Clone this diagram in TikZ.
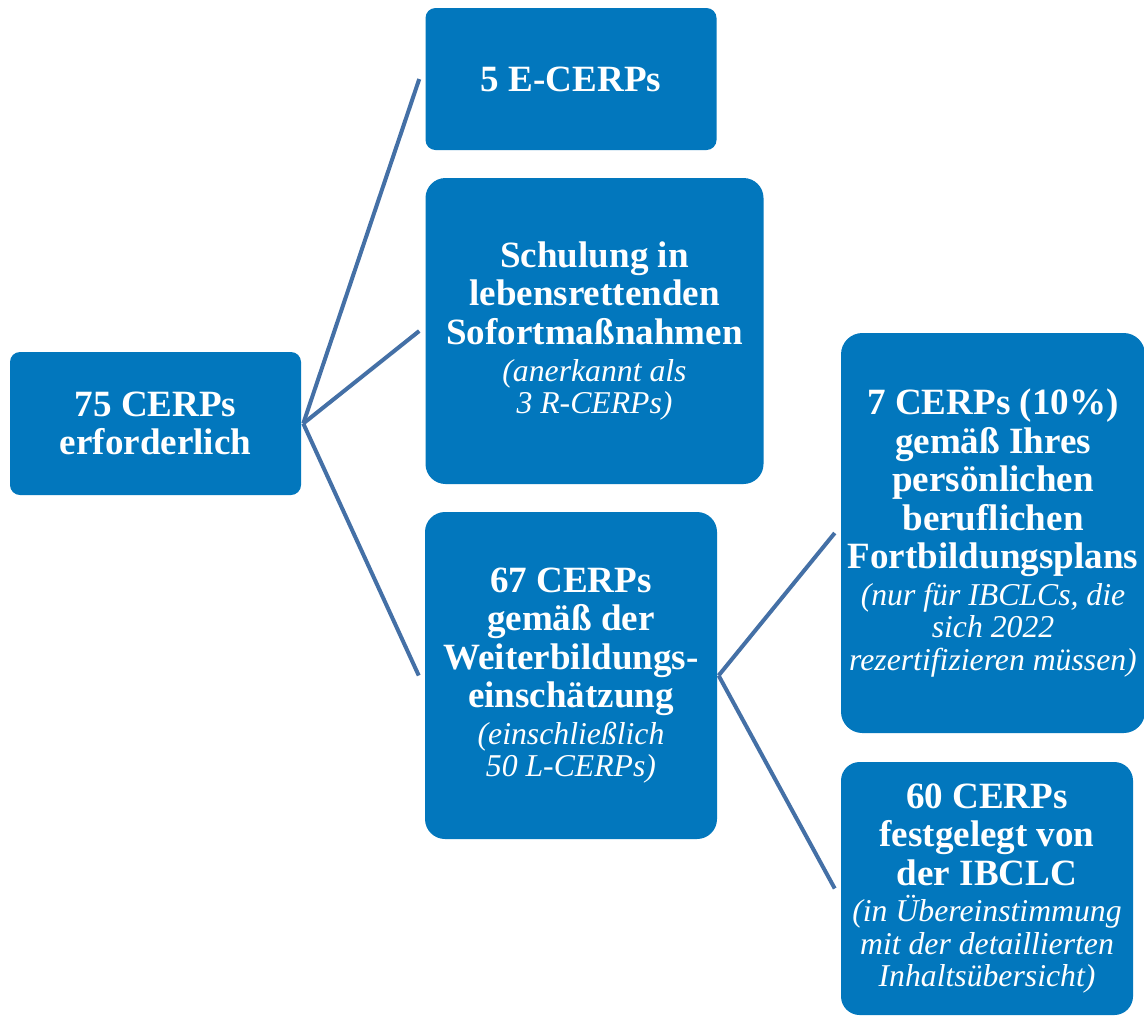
\documentclass[tikz,border=0pt]{standalone}
\usepackage{fontspec}
\setmainfont{Liberation Serif}
\definecolor{cerpblue}{HTML}{0277BD}
\definecolor{linkblue}{HTML}{4470A6}
\newcommand{\remark}[1]{{\fontsize{23.8}{24.4}\selectfont\mdseries\itshape #1}}

\begin{document}
\begin{tikzpicture}[x=0.75pt, y=-0.75pt,
    box/.style={fill=cerpblue, text=white, align=center, inner sep=0pt,
      font=\fontsize{27.8}{28.9}\selectfont\bfseries},
    link/.style={draw=linkblue, line width=3pt}]

  \useasboundingbox[fill=white] (0, 0) rectangle (1144, 1015);

  % BOXES
  \node[box, rounded corners=7.5pt, minimum width=291*0.75pt, minimum height=143*0.75pt]
    (root) at (155.5, 423.5) {75 CERPs\\erforderlich};
  \node[box, rounded corners=7.5pt, minimum width=291*0.75pt, minimum height=142*0.75pt]
    (ecerp) at (571, 79) {5 E-CERPs};
  \node[box, rounded corners=15pt, minimum width=338*0.75pt, minimum height=306*0.75pt]
    (schulung) at (594.5, 331) {Schulung in\\lebensrettenden\\Sofortmaßnahmen\\[-1.5pt]
      \remark{(anerkannt als}\\[-4.5pt]\remark{3 R-CERPs)}};
  \node[box, rounded corners=15pt, minimum width=292*0.75pt, minimum height=327*0.75pt]
    (weiter) at (571, 675.5) {67 CERPs\\gemäß der\\Weiterbildungs-\\einschätzung\\[-1.5pt]
      \remark{(einschließlich}\\[-4.5pt]\remark{50 L-CERPs)}};
  \node[box, rounded corners=16pt, minimum width=304*0.75pt, minimum height=400*0.75pt]
    (plan) at (993, 533) {7 CERPs (10\%)\\gemäß Ihres\\persönlichen\\beruflichen\\Fortbildungsplans\\[-1.5pt]
      \remark{(nur für IBCLCs, die}\\[-4.5pt]\remark{sich 2022}\\[-4.5pt]\remark{rezertifizieren müssen)}};
  \node[box, rounded corners=14pt, minimum width=292*0.75pt, minimum height=253*0.75pt]
    (ibclc) at (987, 888.5) {60 CERPs\\festgelegt von\\der IBCLC\\[-1.5pt]
      \remark{(in Übereinstimmung}\\[-4.5pt]\remark{mit der detaillierten}\\[-4.5pt]\remark{Inhaltsübersicht)}};

  % LINES
  \draw[link] ([xshift=1.5pt]root.east) -- ([xshift=-4.5pt]ecerp.west);
  \draw[link] ([xshift=1.5pt]root.east) -- ([xshift=-4.5pt]schulung.west);
  \draw[link] ([xshift=1.5pt]root.east) -- ([xshift=-4.5pt]weiter.west);
  \draw[link] ([xshift=1pt]weiter.east) -- ([xshift=-4.5pt]plan.west);
  \draw[link] ([xshift=1pt]weiter.east) -- ([xshift=-4.5pt]ibclc.west);

\end{tikzpicture}
\end{document}
